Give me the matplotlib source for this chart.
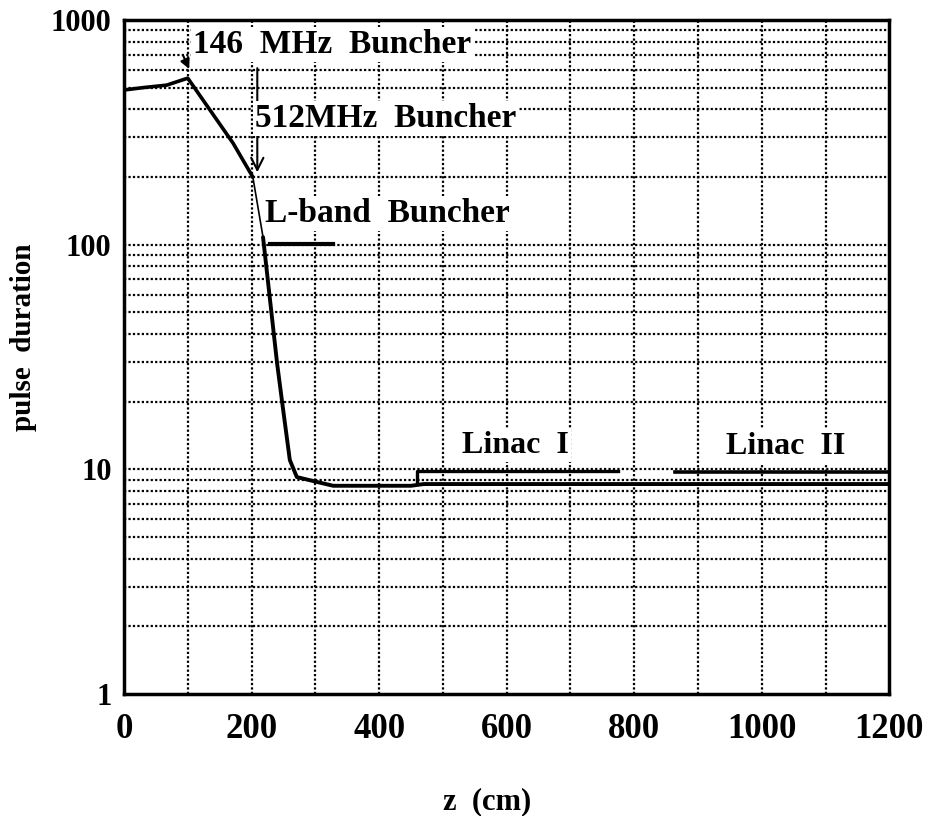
import numpy as np
import matplotlib
matplotlib.use('Agg')
import matplotlib.pyplot as plt

# pulse duration along the injector
z_main = [0, 30, 67, 100, 171, 202]
pd_main = [488, 500, 513, 551, 283, 200]
z_thin = [202, 218]
pd_thin = [200, 108]
z_tail = [218, 240, 249, 260, 271, 303, 328, 450, 470, 1200]
pd_tail = [108, 29.7, 18.9, 11.0, 9.24, 8.78, 8.45, 8.45, 8.6, 8.6]

# section markers
lband_z = [229, 328]
lband_y = 101
linac1_z = [460, 775]
linac1_y = 9.8
linac2_z = [864, 1200]
linac2_y = 9.7

x_ticks = [0, 200, 400, 600, 800, 1000, 1200]
y_ticks = [1, 10, 100, 1000]
y_labels = ['1', '10', '100', '1000']

plt.rcParams['font.family'] = ['Liberation Serif', 'DejaVu Serif']
plt.rcParams['font.weight'] = 'bold'

fig = plt.figure(figsize=(9.31, 8.16), dpi=100)
ax = fig.add_axes([0.1332, 0.1495, 0.822, 0.826])

ax.set_yscale('log')
ax.set_xlim(0, 1200)
ax.set_ylim(1, 1000)

# grid: every 100 cm, and every minor decade step
for xv in range(100, 1200, 100):
    ax.axvline(xv, color='black', lw=1.6, ls=(0, (1, 1)), zorder=1)
for dec in [1, 10, 100]:
    for m in range(1, 10):
        yv = dec * m
        if 1 < yv < 1000:
            ax.axhline(yv, color='black', lw=1.6, ls=(0, (1, 1)), zorder=1)

ax.plot(z_main, pd_main, color='black', lw=2.6, zorder=4, solid_capstyle='round')
ax.plot(z_thin, pd_thin, color='black', lw=1.2, zorder=4)
ax.plot(z_tail, pd_tail, color='black', lw=2.8, zorder=4, solid_capstyle='round')

ax.plot(lband_z, [lband_y, lband_y], color='black', lw=3, zorder=4)
ax.plot([linac1_z[0], linac1_z[0], linac1_z[1]], [8.6, linac1_y, linac1_y], color='black', lw=2.4, zorder=4)
ax.plot(linac2_z, [linac2_y, linac2_y], color='black', lw=2.6, zorder=4)

box = dict(facecolor='white', edgecolor='none', pad=1.5)
fs = 24

ax.annotate('', xy=(104, 590), xytext=(91, 712),
            arrowprops=dict(arrowstyle='-|>', color='black', lw=1.5, mutation_scale=14), zorder=5)
ax.text(108, 775, '146  MHz  Buncher', fontsize=fs, fontweight='bold', ha='left', va='center', bbox=box, zorder=6)

ax.annotate('', xy=(209, 204), xytext=(209, 628),
            arrowprops=dict(arrowstyle='->', color='black', lw=1.5, mutation_scale=22), zorder=5)
ax.text(205, 366, '512MHz  Buncher', fontsize=fs, fontweight='bold', ha='left', va='center', bbox=box, zorder=6)

ax.text(221, 137, 'L-band  Buncher', fontsize=fs, fontweight='bold', ha='left', va='center', bbox=box, zorder=6)
ax.text(613, 12.8, 'Linac  I', fontsize=23, fontweight='bold', ha='center', va='center', bbox=box, zorder=6)
ax.text(1037, 12.7, 'Linac  II', fontsize=23, fontweight='bold', ha='center', va='center', bbox=box, zorder=6)

ax.set_xticks(x_ticks)
ax.set_xticklabels([str(v) for v in x_ticks], fontsize=25, fontweight='bold')
ax.set_yticks(y_ticks)
ax.set_yticklabels(y_labels, fontsize=22, fontweight='bold')
ax.yaxis.set_minor_locator(matplotlib.ticker.NullLocator())
ax.tick_params(axis='both', length=0)
ax.tick_params(axis='x', pad=14)
ax.tick_params(axis='y', pad=9)

for s in ax.spines.values():
    s.set_linewidth(2.5)

ax.set_xlabel('z  (cm)', fontsize=22, fontweight='bold', va='center')
ax.xaxis.set_label_coords(0.475, -0.16)
ax.set_ylabel('pulse  duration', fontsize=21, fontweight='bold')
ax.yaxis.set_label_coords(-0.114, 0.53)

fig.savefig('out.png', dpi=100)
